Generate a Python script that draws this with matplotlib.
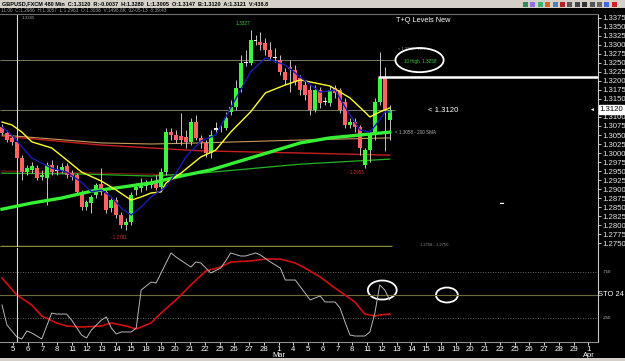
import numpy as np
import matplotlib
matplotlib.use("Agg")
import matplotlib.pyplot as plt
from matplotlib.patches import Ellipse, Rectangle

W, H = 625, 361

# GBPUSD 480 min bars, oldest first
opens = [1.3072, 1.3056, 1.3042, 1.3031, 1.2986, 1.2947, 1.2953, 1.2958, 1.2933, 1.2931,
         1.2967, 1.2950, 1.2950, 1.2964, 1.2944, 1.2939, 1.2889, 1.2850, 1.2861, 1.2883,
         1.2914, 1.2892, 1.2847, 1.2869, 1.2828, 1.2800, 1.2808, 1.2897, 1.2903, 1.2908,
         1.2911, 1.2919, 1.2906, 1.2947, 1.3058, 1.3050, 1.3047, 1.3044, 1.3031, 1.3086,
         1.3042, 1.3028, 1.3000, 1.3064, 1.3069, 1.3069, 1.3114, 1.3128, 1.3181, 1.3250,
         1.3250, 1.3314, 1.3308, 1.3306, 1.3286, 1.3267, 1.3258, 1.3225, 1.3239, 1.3231,
         1.3208, 1.3189, 1.3175, 1.3119, 1.3175, 1.3142, 1.3139, 1.3181, 1.3175, 1.3142,
         1.3078, 1.3086, 1.3072, 1.2967, 1.3008, 1.3050, 1.3142, 1.3208, 1.3092]
highs = [1.3081, 1.3064, 1.3050, 1.3044, 1.2994, 1.2967, 1.2975, 1.2967, 1.2953, 1.2975,
         1.2981, 1.2967, 1.2972, 1.2972, 1.2953, 1.2944, 1.2897, 1.2869, 1.2883, 1.2917,
         1.2958, 1.2897, 1.2875, 1.2878, 1.2836, 1.2819, 1.2892, 1.2917, 1.2931, 1.2925,
         1.2931, 1.2939, 1.2958, 1.3069, 1.3069, 1.3064, 1.3111, 1.3064, 1.3097, 1.3106,
         1.3050, 1.3036, 1.3064, 1.3086, 1.3078, 1.3114, 1.3147, 1.3203, 1.3272, 1.3286,
         1.3342, 1.3328, 1.3336, 1.3319, 1.3308, 1.3292, 1.3272, 1.3236, 1.3258, 1.3244,
         1.3217, 1.3203, 1.3189, 1.3189, 1.3183, 1.3156, 1.3186, 1.3189, 1.3181, 1.3153,
         1.3097, 1.3097, 1.3078, 1.3014, 1.3064, 1.3153, 1.3280, 1.3239, 1.3133]
lows = [1.3050, 1.3031, 1.3022, 1.2981, 1.2925, 1.2939, 1.2944, 1.2925, 1.2925, 1.2856,
        1.2939, 1.2939, 1.2944, 1.2931, 1.2925, 1.2883, 1.2842, 1.2842, 1.2833, 1.2875,
        1.2883, 1.2833, 1.2836, 1.2819, 1.2792, 1.2786, 1.2800, 1.2883, 1.2892, 1.2897,
        1.2903, 1.2897, 1.2897, 1.2939, 1.3036, 1.3028, 1.3022, 1.3014, 1.3022, 1.3036,
        1.3014, 1.2989, 1.2986, 1.3056, 1.3058, 1.3064, 1.3106, 1.3119, 1.3169, 1.3242,
        1.3244, 1.3300, 1.3286, 1.3272, 1.3258, 1.3253, 1.3217, 1.3189, 1.3169, 1.3189,
        1.3161, 1.3147, 1.3106, 1.3114, 1.3125, 1.3133, 1.3131, 1.3153, 1.3111, 1.3069,
        1.3069, 1.3058, 1.2994, 1.2958, 1.2975, 1.3036, 1.3133, 1.3005, 1.3036]
closes = [1.3056, 1.3036, 1.3031, 1.2986, 1.2947, 1.2958, 1.2964, 1.2931, 1.2939, 1.2967,
          1.2947, 1.2953, 1.2961, 1.2939, 1.2933, 1.2892, 1.2850, 1.2864, 1.2878, 1.2911,
          1.2892, 1.2842, 1.2869, 1.2828, 1.2800, 1.2808, 1.2883, 1.2906, 1.2911, 1.2914,
          1.2919, 1.2903, 1.2947, 1.3058, 1.3050, 1.3036, 1.3036, 1.3031, 1.3086, 1.3042,
          1.3028, 1.3000, 1.3050, 1.3069, 1.3070, 1.3097, 1.3128, 1.3181, 1.3250, 1.3253,
          1.3314, 1.3311, 1.3300, 1.3286, 1.3267, 1.3264, 1.3225, 1.3203, 1.3233, 1.3197,
          1.3175, 1.3161, 1.3119, 1.3175, 1.3139, 1.3144, 1.3175, 1.3167, 1.3119, 1.3078,
          1.3086, 1.3072, 1.3014, 1.3008, 1.3050, 1.3142, 1.3208, 1.3119, 1.3120]

# moving averages, read at a few bars
sma200_x = [0, 6, 12, 18, 24, 30, 36, 42, 48, 54, 60, 66, 72, 78]
sma200_y = [1.2844, 1.2861, 1.2875, 1.2894, 1.2905, 1.2917, 1.2936, 1.2953, 1.2978, 1.3003,
            1.3028, 1.3042, 1.3050, 1.3058]
yellow_x = [0, 2, 4, 6, 10, 13, 16, 20, 23, 26, 28, 30, 32, 33, 36, 40, 43, 46, 50, 53,
            57, 60, 66, 70, 73, 74, 76, 78]
yellow_y = [1.3086, 1.3078, 1.3058, 1.3031, 1.3014, 1.2981, 1.2947, 1.2922, 1.2897, 1.2869,
            1.2878, 1.2889, 1.2892, 1.2917, 1.2944, 1.2989, 1.3008, 1.3058, 1.3114, 1.3167,
            1.3189, 1.3203, 1.3186, 1.3153, 1.3114, 1.3100, 1.3114, 1.3125]
blue_x = [0, 2, 4, 6, 10, 13, 16, 18, 20, 22, 24, 26, 28, 30, 33, 35, 37, 40, 43, 46,
          50, 53, 57, 60, 64, 67, 69, 72, 74, 76, 77, 78]
blue_y = [1.3072, 1.3050, 1.3017, 1.2986, 1.2958, 1.2947, 1.2919, 1.2892, 1.2897, 1.2878,
          1.2847, 1.2828, 1.2850, 1.2878, 1.2906, 1.2944, 1.2989, 1.3033, 1.3050, 1.3125,
          1.3225, 1.3264, 1.3244, 1.3211, 1.3169, 1.3175, 1.3128, 1.3064, 1.3058, 1.3092,
          1.3114, 1.3114]
tan_x = [0, 20, 30, 40, 60, 78]
tan_y = [1.3050, 1.3028, 1.3025, 1.3028, 1.3036, 1.3042]
red_x = [0, 20, 40, 60, 78]
red_y = [1.3047, 1.3022, 1.3006, 1.3000, 1.2994]
dkred_x = [0, 20, 37]
dkred_y = [1.2950, 1.2944, 1.2939]
thin_green_x = [0, 15, 30, 40, 60, 78]
thin_green_y = [1.2944, 1.2942, 1.2936, 1.2944, 1.2969, 1.2983]

levels = [1.3258, 1.3119]
tq_level = 1.3210

# stochastic
sto_k_x = [0, 1, 3, 4, 5, 6, 8, 10, 11, 13, 14, 16, 17, 18, 20, 21, 22, 23, 24, 26,
           27, 28, 30, 31, 32, 34, 35, 38, 39, 40, 42, 44, 45, 46, 48, 49, 51, 52, 54, 56,
           57, 59, 62, 64, 65, 67, 68, 69, 70, 71, 73, 74, 75, 76, 77, 78]
sto_k = [39.1, 17.4, 4.3, 2.2, 10.9, 8.7, 2.2, 30.4, 29.3, 29.3, 22.8, 6.5, 3.3, 12.0, 22.8,
         26.1, 14.1, 7.6, 9.8, 9.8, 14.1, 55.4, 64.1, 63.0, 73.9, 95.7, 91.3, 80.4, 85.9, 84.8,
         73.9, 79.3, 87.0, 95.7, 92.4, 92.4, 95.7, 93.5, 85.9, 79.3, 66.3, 66.3, 44.6, 48.9,
         42.4, 42.4, 35.9, 20.7, 6.5, 5.4, 5.4, 9.8, 30.0, 60.9, 55.4, 44.6]
sto_d_x = [0, 3, 6, 8, 11, 13, 16, 20, 22, 25, 27, 30, 32, 35, 38, 41, 44, 46, 50, 53,
           56, 59, 61, 64, 67, 71, 73, 75, 76, 78]
sto_d = [68.5, 50.0, 39.1, 27.2, 19.6, 16.3, 15.2, 16.3, 19.6, 16.3, 13.0, 19.6, 30.4, 44.6,
         60.9, 76.1, 80.4, 85.9, 87.0, 89.1, 89.1, 84.8, 79.3, 69.6, 57.6, 42.4, 29.3, 27.2,
         28.3, 29.3]

day_labels = ["5", "6", "7", "8", "11", "12", "13", "14", "15", "18", "19", "20", "21", "22",
              "25", "26", "27", "28", "1", "4", "5", "6", "7", "8", "11", "12", "13", "14",
              "15", "18", "19", "20", "21", "22", "25", "26", "27", "28", "29", "1"]
month_labels = {18: "Mar", 39: "Apr"}

plt.rcParams["font.family"] = ["Liberation Sans", "DejaVu Sans"]

fig = plt.figure(figsize=(W / 100, H / 100), dpi=100, facecolor="black")


def frac(x0, y0, x1, y1):
    return [x0 / W, 1 - y1 / H, (x1 - x0) / W, (y1 - y0) / H]


ax = fig.add_axes(frac(0, 14, 598, 247))
ax_sto = fig.add_axes(frac(0, 248, 598, 342), sharex=ax)
for a in (ax, ax_sto):
    a.set_facecolor("black")
    for s in ("left", "top", "bottom"):
        a.spines[s].set_visible(False)
    a.spines["right"].set_color("#c8c8c8")
    a.spines["right"].set_linewidth(0.8)
ax.spines["top"].set_visible(True)
ax.spines["top"].set_color("#707070")
ax_sto.spines["bottom"].set_visible(True)
ax_sto.spines["bottom"].set_color("#909090")

# candles
xb = np.arange(len(opens))
o, hi, lo, c = (np.array(v) for v in (opens, highs, lows, closes))
body = np.maximum(np.abs(c - o), 0.00012)
bottom = np.minimum(o, c)
doji = np.abs(c - o) <= 0.0005
up = (c > o) & ~doji
dn = (c < o) & ~doji
ax.vlines(xb, lo, hi, color="#c4c4c4", lw=0.7, zorder=3)
ax.bar(xb[up], body[up], bottom=bottom[up], width=0.8, color="#3cf53c", lw=0, zorder=4)
ax.bar(xb[dn], body[dn], bottom=bottom[dn], width=0.8, color="#ff6262", lw=0, zorder=4)
ax.bar(xb[doji], body[doji], bottom=bottom[doji], width=0.8, color="#f0f0f0", lw=0, zorder=4)

# averages and levels
ax.hlines(levels, -0.4, 79, color="#8e8e70", lw=0.6, zorder=1)
ax.plot(tan_x, tan_y, color="#c89a5a", lw=0.8, zorder=2)
ax.plot(red_x, red_y, color="#c81e1e", lw=1.0, zorder=2)
ax.plot(dkred_x, dkred_y, color="#8a1414", lw=0.8, zorder=2)
ax.plot(thin_green_x, thin_green_y, color="#22b422", lw=0.9, zorder=2)
ax.plot(sma200_x, sma200_y, color="#35f035", lw=2.4, zorder=5)
ax.plot(yellow_x, yellow_y, color="#ffff30", lw=1.0, zorder=6)
ax.plot(blue_x, blue_y, color="#1a1ab4", lw=1.0, zorder=6)
ax.hlines(tq_level, 75.7, 120, color="white", lw=1.8, zorder=6)
ax.hlines(1.2742, -0.4, 78.5, color="#8c8c3c", lw=1.0)

ax.set_xlim(-0.4, 119.9)
ax.set_ylim(1.2739, 1.3386)

# price scale on the right
ticks = [t for t in np.arange(1.2750, 1.33751, 0.0025) if abs(t - 1.3125) > 1e-6]
ax.yaxis.tick_right()
ax.set_yticks(ticks)
ax.set_yticklabels([f"{t:.4f}" for t in ticks])
ax.tick_params(axis="y", colors="#e6e6e6", labelsize=5.6, length=2, pad=1, width=0.6)
ax.tick_params(axis="x", bottom=False, labelbottom=False)
ax.text(1.003, 1.3120, "1.3120", transform=ax.get_yaxis_transform(), fontsize=5.6,
        color="black", va="center", ha="left",
        bbox=dict(boxstyle="square,pad=0.12", fc="white", ec="white"))
ax.text(0.993, 1.3120, "◄", transform=ax.get_yaxis_transform(), fontsize=3.5,
        color="white", va="center", ha="right")

# annotations
ax.axvline(3.0, color="#d8d8d8", lw=0.8)
ax.text(79.3, 1.3367, "T+Q Levels New", color="white", fontsize=5.3, va="center")
ax.text(48.5, 1.3361, "1.3327", color="#40d040", fontsize=3.4, ha="center", va="center")
ax.text(79.7, 1.3288, "< 1.3283 - 10H", color="#a0a0a0", fontsize=3.0, va="center")
ax.text(80.9, 1.3253, "10 High  1.3258", color="#40d040", fontsize=3.3, va="center")
ax.add_patch(Ellipse((84.0, 1.3258), 9.7, 0.0067, fill=False, ec="white", lw=1.3, zorder=7))
ax.text(85.7, 1.3119, "< 1.3120", color="white", fontsize=5.6, va="center")
ax.text(79.1, 1.3058, "< 1.3058 - 200 SMA", color="#b0b0b0", fontsize=3.3, va="center")
ax.text(69.4, 1.2947, "- 1.2955", color="#e03030", fontsize=3.3, va="center")
ax.text(21.7, 1.2765, "- 1.2781", color="#e03030", fontsize=3.3, va="center")
ax.text(100.6, 1.2861, "▬", color="white", fontsize=3.0, va="center", ha="center")
ax.text(84.0, 1.2745, "1.2758 - 1.2750", color="#909090", fontsize=3.0, va="center")

# stochastic panel
ax_sto.axhline(75, color="#8a8a8a", lw=0.6, ls=(0, (1, 2)))
ax_sto.axhline(25, color="#8a8a8a", lw=0.6, ls=(0, (1, 2)))
ax_sto.axhline(50, color="#6b6b3c", lw=0.8)
ax_sto.plot(sto_d_x, sto_d, color="#d01010", lw=1.2)
ax_sto.plot(sto_k_x, sto_k, color="#b8b8b8", lw=0.7)
ax_sto.axvline(3.0, color="#d8d8d8", lw=0.8)
ax_sto.add_patch(Ellipse((76.5, 55.4), 5.8, 20.7, fill=False, ec="white", lw=1.3))
ax_sto.add_patch(Ellipse((89.5, 50.0), 4.4, 16.3, fill=False, ec="white", lw=1.3))
ax_sto.set_ylim(-1.1, 101.1)
ax_sto.set_yticks([])
yt = ax_sto.get_yaxis_transform()
ax_sto.text(1.007, 75, ".750", transform=yt, color="#c0c0c0", fontsize=3.2, va="center")
ax_sto.text(1.0, 50, "STO 24", transform=yt, color="white", fontsize=5.4, va="center")
ax_sto.text(1.007, 25, ".250", transform=yt, color="#c0c0c0", fontsize=3.2, va="center")

day_pos = 2.21 + np.arange(len(day_labels)) * 2.968
ax_sto.set_xticks(day_pos)
ax_sto.set_xticklabels(day_labels)
ax_sto.tick_params(axis="x", colors="white", labelsize=5.6, length=2, pad=1, width=0.6)
for k, m in month_labels.items():
    ax_sto.text(day_pos[k], -0.145, m, transform=ax_sto.get_xaxis_transform(),
                color="white", fontsize=5.4, ha="center", va="center")

# window chrome
fig.patches.append(Rectangle((0, 1 - 8 / H), 1, 8 / H, transform=fig.transFigure,
                             fc="#d4d0c8", ec="none"))
fig.patches.append(Rectangle((0, 0), 1, 3 / H, transform=fig.transFigure,
                             fc="#d4d0c8", ec="none"))
fig.text(2 / W, 1 - 4 / H, "GBPUSD,FXCM 480 Min  C:1.3120  R:-0.0037  H:1.3280  L:1.3005  "
         "O:1.3147  B:1.3120  A:1.3121  V:436.8", fontsize=4.0, color="black", va="center",
         fontweight="bold")
fig.text(1 / W, 1 - 11 / H, "11:00  C:1.2986  H:1.3057  L:1.2963  O:1.3038  V:1498.8K  "
         "02-05-13  8:39:43", fontsize=3.4, color="#a0a0a0", va="center")
fig.text(22 / W, 1 - 18 / H, "1.3385", fontsize=3.2, color="#a0a0a0", va="center")
icon_colors = ["#2e8b57", "#9370db", "#3cb371", "#d2691e", "#4682b4", "#b22222", "#555555",
               "#444444", "#333333", "#555555", "#666666", "#4169e1", "#cc2222"]
for i, col in enumerate(icon_colors):
    fig.patches.append(Rectangle(((523 + i * 7.4) / W, 1 - 7 / H), 5 / W, 5 / H,
                                 transform=fig.transFigure, fc=col, ec="none"))

fig.savefig("out.png", dpi=100, facecolor="black")
